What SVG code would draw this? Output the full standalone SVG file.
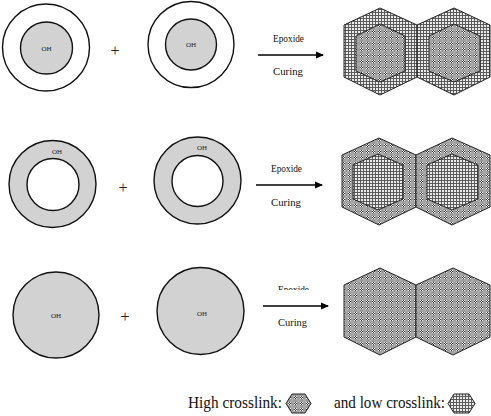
<svg xmlns="http://www.w3.org/2000/svg" width="491" height="416" viewBox="0 0 491 416">
<style>
.circ{stroke:#111;stroke-width:1.4}
.grey{fill:#d2d2d2}
.white{fill:#fff}
.hex{stroke:#222;stroke-width:1}
.low{fill:url(#lowPat)}
.high{fill:url(#highPat)}
.oh{font-family:"Liberation Serif",serif;font-size:7px;fill:#222;text-anchor:middle}
.plus{font-family:"Liberation Serif",serif;font-size:16px;fill:#222;text-anchor:middle}
.lbl{font-family:"Liberation Serif",serif;font-size:11px;fill:#111}
.leg{font-family:"Liberation Serif",serif;font-size:17px;fill:#111}
.arr{stroke:#000;stroke-width:1.3;fill:none}
</style>
<defs>
<pattern id="lowPat" width="3" height="3" patternUnits="userSpaceOnUse">
<rect width="3" height="3" fill="#ececec"/>
<rect x="0" y="0" width="3" height="1" fill="#5a5a5a"/>
<rect x="0" y="0" width="1" height="3" fill="#5a5a5a"/>
</pattern>
<pattern id="highPat" width="6" height="6" patternUnits="userSpaceOnUse">
<rect width="6" height="6" fill="#9c9c9c"/>
<rect x="0" y="0" width="1" height="1" fill="#fff"/>
<rect x="2" y="0" width="1" height="1" fill="#fff"/>
<rect x="1" y="1" width="1" height="1" fill="#fff"/>
<rect x="0" y="2" width="1" height="1" fill="#fff"/>
<rect x="2" y="2" width="1" height="1" fill="#fff"/>
<rect x="1" y="0" width="1" height="1" fill="#333"/>
<rect x="0" y="1" width="1" height="1" fill="#333"/>
<rect x="2" y="1" width="1" height="1" fill="#333"/>
<rect x="1" y="2" width="1" height="1" fill="#333"/>
<rect x="3" y="3" width="3" height="3" fill="#a8a8a8"/>
</pattern>
<marker id="ah" markerWidth="8" markerHeight="8" refX="7" refY="4" orient="auto" markerUnits="userSpaceOnUse">
<path d="M0,0.5 L8,4 L0,7.5 Z" fill="#000"/>
</marker>
<clipPath id="clip3"><rect x="260" y="280" width="60" height="10"/></clipPath>
</defs>

<!-- Row 1 -->
<g id="r1c1">
<circle class="circ white" cx="46" cy="47.5" r="43.5"/>
<circle class="circ grey" cx="46.5" cy="48" r="26"/>
<text class="oh" x="46.5" y="50.5">OH</text>
</g>
<text class="plus" x="115" y="56">+</text>
<g id="r1c2">
<circle class="circ white" cx="191" cy="44.5" r="43"/>
<circle class="circ grey" cx="191" cy="44.5" r="25.5"/>
<text class="oh" x="191" y="47">OH</text>
</g>
<g id="r1hex">
<polygon class="hex low" points="380,8 417,25 417,77 380,95 344,77 344,25"/>
<polygon class="hex low" points="454,8 490,25 490,77 454,95 417,77 417,25"/>
<polygon class="hex high" points="380,24 405,36 405,71 380,82 356,71 356,36"/>
<polygon class="hex high" points="454,24 480,36 480,71 454,82 429,71 429,36"/>
</g>
<text class="lbl" x="273" y="42" textLength="31" lengthAdjust="spacingAndGlyphs">Epoxide</text>
<text class="lbl" x="273" y="75" textLength="30" lengthAdjust="spacingAndGlyphs">Curing</text>

<!-- Row 2 -->
<g id="r2c1">
<circle class="circ grey" cx="52.5" cy="184" r="43.5"/>
<circle class="circ white" cx="53" cy="184.5" r="26"/>
<text class="oh" x="57" y="153.5">OH</text>
</g>
<text class="plus" x="123" y="193">+</text>
<g id="r2c2">
<circle class="circ grey" cx="197.5" cy="180.5" r="43.5"/>
<circle class="circ white" cx="197.5" cy="181" r="25.5"/>
<text class="oh" x="202" y="149.5">OH</text>
</g>
<g id="r2hex">
<polygon class="hex high" points="379,138 416,155 416,207 379,225 342,207 342,155"/>
<polygon class="hex high" points="452,138 490,155 490,207 452,225 416,207 416,155"/>
<polygon class="hex low" points="378,154 403,165 403,199 378,210 353,199 353,165"/>
<polygon class="hex low" points="452,154 478,165 478,199 452,210 427,199 427,165"/>
</g>
<text class="lbl" x="271" y="172" textLength="31" lengthAdjust="spacingAndGlyphs">Epoxide</text>
<text class="lbl" x="271" y="206" textLength="30" lengthAdjust="spacingAndGlyphs">Curing</text>

<!-- Row 3 -->
<g id="r3c1">
<circle class="circ grey" cx="56" cy="315" r="43"/>
<text class="oh" x="56" y="317.5">OH</text>
</g>
<text class="plus" x="125" y="322">+</text>
<g id="r3c2">
<circle class="circ grey" cx="200.5" cy="311" r="43.5"/>
<text class="oh" x="202" y="315.5">OH</text>
</g>
<g id="r3hex">
<polygon class="hex high" points="380,268 416,285 416,337 380,355 344,337 344,285"/>
<polygon class="hex high" points="453,268 490,285 490,337 453,355 416,337 416,285"/>
</g>
<text class="lbl" x="278" y="293" textLength="31" lengthAdjust="spacingAndGlyphs" clip-path="url(#clip3)">Epoxide</text>
<text class="lbl" x="278" y="326" textLength="29" lengthAdjust="spacingAndGlyphs">Curing</text>

<!-- Connectors -->
<g id="connectors">
<line class="arr" x1="258" y1="55" x2="323" y2="55" marker-end="url(#ah)"/>
<line class="arr" x1="256" y1="185" x2="322" y2="185" marker-end="url(#ah)"/>
<line class="arr" x1="263" y1="306" x2="328" y2="306" marker-end="url(#ah)"/>
</g>

<!-- Legend -->
<g id="legend">
<text class="leg" x="188" y="408" textLength="94" lengthAdjust="spacingAndGlyphs">High crosslink:</text>
<polygon class="hex high" points="286,403.5 292,394 305,394 311,403.5 305,413 292,413"/>
<text class="leg" x="334" y="408" textLength="111" lengthAdjust="spacingAndGlyphs">and low crosslink:</text>
<polygon class="hex low" points="448,403.5 454,394 469,394 475,403.5 469,413 454,413"/>
</g>
</svg>
